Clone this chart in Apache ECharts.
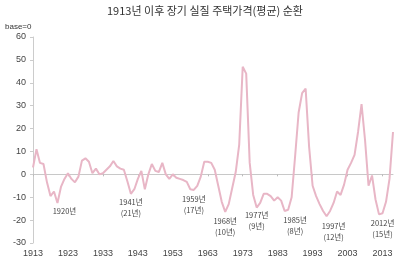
<!DOCTYPE html>
<html style="height: 100%">
<head>
    <meta charset="utf-8">
    <title>1913년 이후 장기 실질 주택가격(평균) 순환</title>
    <script src="https://cdn.jsdelivr.net/npm/echarts@6/dist/echarts.min.js"></script>
</head>
<body style="height: 100%; margin: 0; background: #fff">
<div id="container" style="width: 410px; height: 272px"></div>

<script type="text/javascript">
    // 연도 (1913 ~ 2016)
    var years = [];
    for (var y = 1913; y <= 2016; y++) years.push(String(y));

    // base=0 대비 실질 주택가격 순환
    var cycle = [
        3, 11, 5, 4.5, -3.5, -9.5, -7.5, -12.5, -5.5, -2,          // 1913-1922
        0.5, -2, -3.5, -1, 6, 7, 5.5, 0.5, 2.5, 0,                 // 1923-1932
        0.5, 2, 3.5, 5.8, 3.5, 2.5, 2, -3, -8.5, -6.5,             // 1933-1942
        -2, 1.5, -6.5, 0, 4.5, 1.5, 1, 5, 0, -2,                   // 1943-1952
        0, -1.5, -2, -2.5, -3.3, -6.5, -6.8, -5, -1, 5.5,          // 1953-1962
        5.5, 5, 2, -5, -12, -16.4, -13, -6, 1, 13,                 // 1963-1972
        47, 44, 5, -9, -14.5, -12.5, -8.5, -8.5, -9.5, -11.5,      // 1973-1982
        -10, -11.5, -16, -15.5, -10, 8, 27, 35.5, 37.5, 12,        // 1983-1992
        -5, -9.5, -13, -16, -18.3, -16, -12.5, -7.5, -9, -4.5,     // 1993-2002
        2, 5, 8.5, 18.5, 30.7, 15, -5, -0.5, -11, -17.5,           // 2003-2012
        -17, -12, -2, 18.5                                          // 2013-2016
    ];

    // 저점 주석
    var noteYears = ['1922', '1941', '1959', '1968', '1977', '1988', '1999', '2013'];
    var noteLevels = [-16.1, -14.7, -13.3, -22.8, -20.4, -22.4, -25, -23.9];
    var noteTexts = ['1920년', '1941년\n(21년)', '1959년\n(17년)', '1968년\n(10년)',
        '1977년\n(9년)', '1985년\n(8년)', '1997년\n(12년)', '2012년\n(15년)'];

    var yTicks = {min: -30, max: 60, interval: 10};

    var notes = noteYears.map(function (yr, i) {
        return {name: noteTexts[i], coord: [yr, noteLevels[i]]};
    });

    var dom = document.getElementById("container");
    var myChart = echarts.init(dom, null, {renderer: 'canvas'});
    var numFont = 'Liberation Sans';
    var krFont = 'Noto Sans CJK KR';

    var option = {
        animation: false,
        backgroundColor: '#fff',
        title: {
            text: '1913년 이후 장기 실질 주택가격(평균) 순환',
            left: 'center',
            top: 0,
            textStyle: {fontFamily: krFont, fontSize: 11, fontWeight: 'normal', color: '#333'}
        },
        graphic: [{
            type: 'text', left: 5, top: 23,
            style: {text: 'base=0', fontFamily: numFont, fontSize: 8, fill: '#333'}
        }],
        grid: {left: 33, right: 17, top: 37, bottom: 29},
        xAxis: [{
            type: 'category',
            data: years,
            boundaryGap: false,
            axisLine: {onZero: true, lineStyle: {color: '#c8c8c8', width: 1}},
            axisTick: {show: true, interval: 9, length: 2, inside: false, lineStyle: {color: '#bbb'}},
            axisLabel: {show: false},
            splitLine: {show: false}
        }, {
            type: 'category',
            data: years,
            boundaryGap: false,
            position: 'bottom',
            axisLine: {show: false, onZero: false},
            axisTick: {show: false},
            axisLabel: {interval: 9, margin: 6, color: '#444', fontFamily: numFont, fontSize: 9},
            splitLine: {show: false}
        }],
        yAxis: {
            type: 'value',
            min: yTicks.min,
            max: yTicks.max,
            interval: yTicks.interval,
            axisLine: {show: true, lineStyle: {color: '#ccc'}},
            axisTick: {show: true, length: 3, lineStyle: {color: '#ccc'}},
            axisLabel: {margin: 7, color: '#444', fontFamily: numFont, fontSize: 9},
            splitLine: {show: false}
        },
        series: [{
            type: 'line',
            data: cycle,
            xAxisIndex: 0,
            showSymbol: false,
            lineStyle: {color: '#e8b6c6', width: 2},
            markPoint: {
                symbol: 'circle',
                symbolSize: 1,
                itemStyle: {color: 'rgba(0,0,0,0)'},
                label: {
                    show: true,
                    position: 'inside',
                    formatter: '{b}',
                    fontFamily: krFont,
                    fontSize: 7.5,
                    lineHeight: 11,
                    color: '#444'
                },
                data: notes
            }
        }]
    };

    if (option && typeof option === "object") {
        myChart.setOption(option, true);
    }
</script>
</body>
</html>
